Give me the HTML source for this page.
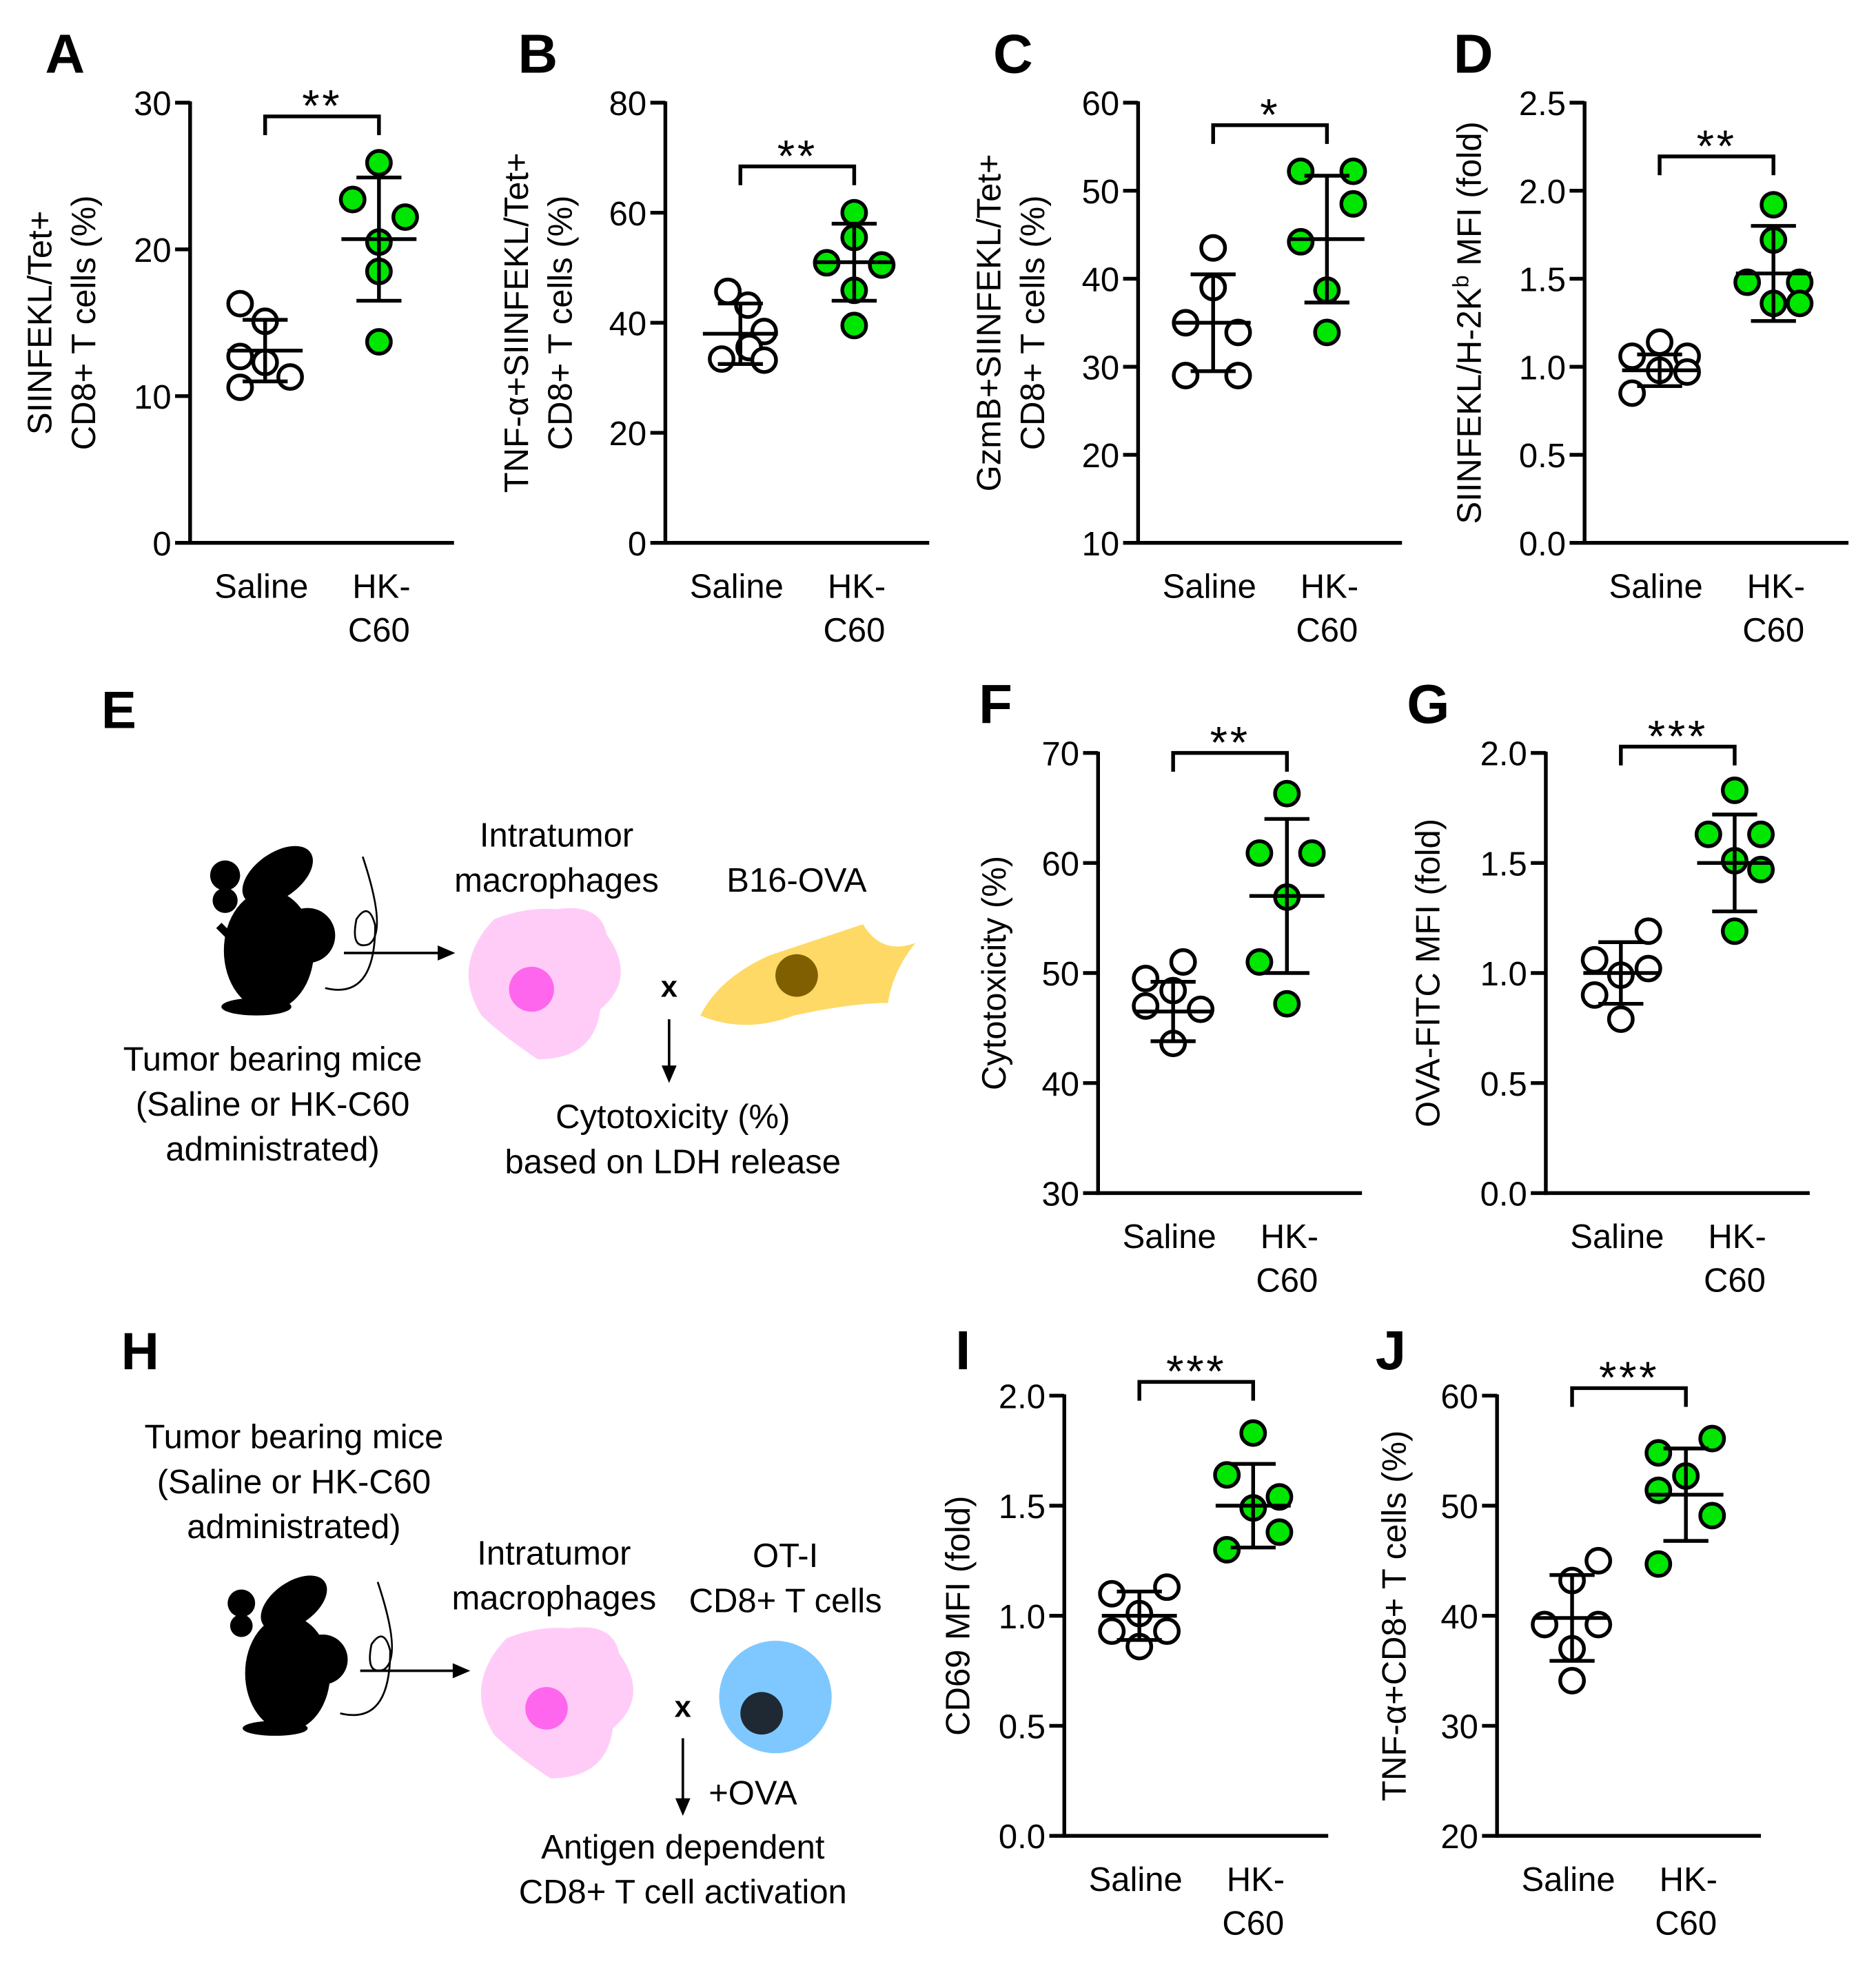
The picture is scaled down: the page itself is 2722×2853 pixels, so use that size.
<!DOCTYPE html>
<html><head><meta charset="utf-8"><style>
html,body{margin:0;padding:0;background:#fff;}
svg{display:block;font-family:"Liberation Sans",Arial,sans-serif;}
</style></head><body>
<svg id="fig" width="2722" height="2853" viewBox="0 0 1500 1572" xmlns="http://www.w3.org/2000/svg">
<g>
  <text x="95" y="582" font-size="42" font-weight="bold" text-anchor="middle">E</text>
  <g fill="#000">
    <ellipse cx="215" cy="760" rx="36" ry="48"/><circle cx="246" cy="748" r="22"/>
    <ellipse cx="222" cy="700" rx="32" ry="18" transform="rotate(-35 222 700)"/>
    <circle cx="180" cy="700" r="12"/><circle cx="180" cy="720" r="10"/>
    <ellipse cx="205" cy="805" rx="28" ry="7"/>
    <line x1="175" y1="740" x2="195" y2="760" stroke="#000" stroke-width="6"/>
  </g>
  <path d="M260 790 q40 10 40 -50 q-5 -20 -15 -5 q-5 25 10 20 q15 -10 -5 -70" fill="none" stroke="#000" stroke-width="1.5"/>
  <line x1="275" y1="762" x2="355" y2="762" stroke="#000" stroke-width="2"/><polygon points="364,762 350,756 350,768" fill="#000"/>
  <text x="218" y="856" font-size="27" text-anchor="middle">Tumor bearing mice</text>
  <text x="218" y="892" font-size="27" text-anchor="middle">(Saline or HK-C60</text>
  <text x="218" y="928" font-size="27" text-anchor="middle">administrated)</text>
  <text x="445" y="677" font-size="27" text-anchor="middle">Intratumor</text>
  <text x="445" y="713" font-size="27" text-anchor="middle">macrophages</text>
  <text x="637" y="713" font-size="27" text-anchor="middle">B16-OVA</text>
  <path d="M395 735 q25 -10 50 -8 q35 -5 40 20 q25 35 -5 60 q-5 40 -50 40 q-30 -20 -45 -35 q-25 -40 10 -77z" fill="#ffccf8"/>
  <circle cx="425" cy="791" r="18" fill="#ff66ee"/>
  <text x="535" y="797" font-size="24" font-weight="bold" text-anchor="middle">x</text>
  <path d="M560 812 q15 -30 55 -48 q45 -15 75 -25 q15 25 42 15 q-18 22 -22 48 q-30 0 -75 10 q-40 15 -75 0z" fill="#ffd966"/>
  <circle cx="637" cy="780" r="17" fill="#7f5f00"/>
  <line x1="535" y1="815" x2="535" y2="855" stroke="#000" stroke-width="2"/><polygon points="535,866 529,852 541,852" fill="#000"/>
  <text x="538" y="902" font-size="27" text-anchor="middle">Cytotoxicity (%)</text>
  <text x="538" y="938" font-size="27" text-anchor="middle">based on LDH release</text>
</g>
<g>
  <text x="112" y="1095" font-size="42" font-weight="bold" text-anchor="middle">H</text>
  <text x="235" y="1158" font-size="27" text-anchor="middle">Tumor bearing mice</text>
  <text x="235" y="1194" font-size="27" text-anchor="middle">(Saline or HK-C60</text>
  <text x="235" y="1230" font-size="27" text-anchor="middle">administrated)</text>
  <g fill="#000">
    <ellipse cx="230" cy="1338" rx="34" ry="46"/><circle cx="258" cy="1327" r="20"/>
    <ellipse cx="235" cy="1282" rx="30" ry="17" transform="rotate(-35 235 1282)"/>
    <circle cx="193" cy="1282" r="11"/><circle cx="193" cy="1300" r="9"/>
    <ellipse cx="220" cy="1382" rx="26" ry="6"/>
  </g>
  <path d="M272 1370 q40 10 40 -50 q-5 -20 -15 -5 q-5 25 10 20 q15 -10 -5 -70" fill="none" stroke="#000" stroke-width="1.5"/>
  <line x1="288" y1="1336" x2="366" y2="1336" stroke="#000" stroke-width="2"/><polygon points="376,1336 362,1330 362,1342" fill="#000"/>
  <text x="443" y="1251" font-size="27" text-anchor="middle">Intratumor</text>
  <text x="443" y="1287" font-size="27" text-anchor="middle">macrophages</text>
  <text x="628" y="1253" font-size="27" text-anchor="middle">OT-I</text>
  <text x="628" y="1289" font-size="27" text-anchor="middle">CD8+ T cells</text>
  <path d="M405 1310 q25 -10 50 -8 q35 -5 40 20 q25 35 -5 60 q-5 40 -50 40 q-30 -20 -45 -35 q-25 -40 10 -77z" fill="#ffccf8"/>
  <circle cx="437" cy="1366" r="17" fill="#ff66ee"/>
  <circle cx="620" cy="1357" r="45" fill="#7fc8ff"/>
  <circle cx="609" cy="1370" r="17" fill="#1f2933"/>
  <text x="546" y="1373" font-size="24" font-weight="bold" text-anchor="middle">x</text>
  <line x1="546" y1="1390" x2="546" y2="1440" stroke="#000" stroke-width="2"/><polygon points="546,1452 540,1438 552,1438" fill="#000"/>
  <text x="602" y="1443" font-size="27" text-anchor="middle">+OVA</text>
  <text x="546" y="1486" font-size="27" text-anchor="middle">Antigen dependent</text>
  <text x="546" y="1522" font-size="27" text-anchor="middle">CD8+ T cell activation</text>
</g>
<g id="charts"></g>
</svg>
<script>
// ---- data arrays ----
const categories = ["Saline", "HK-C60"];
const aSaline = [16.3, 15.1, 12.7, 12.3, 11.3, 10.6];
const aHK = [25.9, 23.4, 22.2, 20.5, 18.5, 13.7];
const aMean = [13.1, 20.7]; const aSD = [2.1, 4.2];
const bSaline = [45.7, 43.2, 38.4, 35.5, 33.4, 33.2];
const bHK = [60, 55.5, 50.9, 50.5, 45.9, 39.5];
const bMean = [38, 51]; const bSD = [5.5, 7];
const cSaline = [43.5, 39, 35, 33.9, 29, 29];
const cHK = [52.2, 52.2, 48.5, 44.2, 38.7, 33.9];
const cMean = [35, 44.5]; const cSD = [5.5, 7.2];
const dSaline = [1.14, 1.06, 1.06, 0.98, 0.85, 0.97];
const dHK = [1.92, 1.72, 1.48, 1.48, 1.36, 1.36];
const dMean = [0.98, 1.53]; const dSD = [0.09, 0.27];
const fSaline = [51, 49.5, 48.4, 47, 46.7, 43.6];
const fHK = [66.3, 60.9, 60.9, 56.9, 51, 47.2];
const fMean = [46.5, 57]; const fSD = [2.7, 7];
const gSaline = [1.19, 1.06, 0.99, 1.02, 0.9, 0.79];
const gHK = [1.83, 1.63, 1.63, 1.51, 1.47, 1.19];
const gMean = [1.0, 1.5]; const gSD = [0.14, 0.22];
const iSaline = [1.10, 1.13, 1.01, 0.93, 0.93, 0.86];
const iHK = [1.83, 1.64, 1.54, 1.49, 1.3, 1.38];
const iMean = [1.0, 1.5]; const iSD = [0.11, 0.19];
const jSaline = [45, 43.2, 39.2, 39.2, 37, 34.1];
const jHK = [54.8, 56.1, 52.7, 51.4, 49.1, 44.7];
const jMean = [39.8, 51]; const jSD = [3.9, 4.2];
const aTicks = [0,10,20,30], bTicks=[0,20,40,60,80], cTicks=[10,20,30,40,50,60];
const dTicks=[0,0.5,1,1.5,2,2.5], fTicks=[30,40,50,60,70], gTicks=[0,0.5,1,1.5,2];
const iTicks=[0,0.5,1,1.5,2], jTicks=[20,30,40,50,60];
const salineJit=[-20,0,-20,0,20,-20];
const ns="http://www.w3.org/2000/svg";
const root=document.getElementById('charts');
function mk(tag,attrs,parent,txt){const e=document.createElementNS(ns,tag);for(const k in attrs)e.setAttribute(k,attrs[k]);if(txt!==undefined)e.textContent=txt;parent.appendChild(e);return e;}
function panel(p){
  const g=mk('g',{},root);
  
  
  const y=v=>p.y0-(v-p.min)/(p.max-p.min)*(p.y0-p.y1);
  const x=i=>p.ax+60+i*91;
  const lab=mk('text',{x:p.lx,y:p.ly,'font-size':44,'font-weight':'bold','text-anchor':'middle'},g,p.id.toUpperCase());
  
  
  mk('line',{x1:p.ax,y1:p.y1-1,x2:p.ax,y2:p.y0+1.5,stroke:'#000','stroke-width':3},g);
  mk('line',{x1:p.ax,y1:p.y0,x2:p.ax+211,y2:p.y0,stroke:'#000','stroke-width':3},g);
  p.ticks.forEach(t=>{
    mk('line',{x1:p.ax-12,y1:y(t),x2:p.ax,y2:y(t),stroke:'#000','stroke-width':3},g);
    const tl=mk('text',{x:p.ax-15,y:y(t)+10,'font-size':27,'text-anchor':'end'},g,p.fmt?t.toFixed(1):String(t));
    
    
  });
  const xl=mk('text',{x:x(0)-3,y:p.y0+44,'font-size':27,'text-anchor':'middle'},g,categories[0]);
  
  
  const xh=mk('text',{x:x(1)+2,y:p.y0+44,'font-size':27,'text-anchor':'middle'},g,'HK-');
  
  
  mk('text',{x:x(1),y:p.y0+79,'font-size':27,'text-anchor':'middle'},g,'C60');
  p.title.forEach((t,k)=>{
    const cx=p.tx+k*35, cy=(p.y0+p.y1)/2;
    const tt=mk('text',{x:cx,y:cy,'font-size':27,'text-anchor':'middle',transform:`rotate(-90 ${cx} ${cy})`},g);
    tt.innerHTML=t;
    
    
  });
  const b=mk('path',{d:`M${x(0)} ${p.by+15} V${p.by} H${x(1)} V${p.by+15}`,fill:'none',stroke:'#000','stroke-width':3},g);
  
  
  const st=mk('text',{x:(x(0)+x(1))/2,y:p.by+4,'font-size':36,'text-anchor':'middle','letter-spacing':'2'},g,p.stars);
  
  
  [p.s,p.h].forEach((arr,ci)=>{
    arr.forEach((v,i)=>{
      const c=mk('circle',{cx:x(ci)+(p.jit[ci][i]),cy:y(v),r:9.5,fill:ci?'#00e600':'#fff',stroke:'#000','stroke-width':3},g);
      
      
    });
    const m=p.mean[ci], sd=p.sd[ci], cx=x(ci);
    const eb=mk('path',{d:`M${cx-30} ${y(m)} H${cx+30} M${cx} ${y(m+sd)} V${y(m-sd)} M${cx-18} ${y(m+sd)} H${cx+18} M${cx-18} ${y(m-sd)} H${cx+18}`,fill:'none',stroke:'#000','stroke-width':3},g);
    
    
  });
}
panel({id:'a',lx:52,ly:58,ax:152,y1:82,y0:434,min:0,max:30,ticks:aTicks,s:aSaline,h:aHK,mean:aMean,sd:aSD,jit:[salineJit,[0,-21,21,0,0,0]],title:['SIINFEKL/Tet+','CD8+ T cells (%)'],tx:41,by:93,stars:'**'});
panel({id:'b',lx:430,ly:58,ax:532,y1:82,y0:434,min:0,max:80,ticks:bTicks,s:bSaline,h:bHK,mean:bMean,sd:bSD,jit:[[-10,6,19,7,-15,19],[0,0,-22,22,0,0]],title:['TNF-α+SIINFEKL/Tet+','CD8+ T cells (%)'],tx:422,by:133,stars:'**'});
panel({id:'c',lx:810,ly:58,ax:910,y1:82,y0:434,min:10,max:60,ticks:cTicks,s:cSaline,h:cHK,mean:cMean,sd:cSD,jit:[[0,0,-22,20,-22,20],[-21,21,21,-21,0,0]],title:['GzmB+SIINFEKL/Tet+','CD8+ T cells (%)'],tx:800,by:100,stars:'*'});
panel({id:'d',lx:1178,ly:58,ax:1267,y1:82,y0:434,min:0,max:2.5,ticks:dTicks,fmt:1,s:dSaline,h:dHK,mean:dMean,sd:dSD,jit:[[0,-22,22,0,-22,22],[0,0,-21,21,0,21]],title:['SIINFEKL/H-2K<tspan baseline-shift="super" font-size="18">b</tspan> MFI (fold)'],tx:1184,by:125,stars:'**'});
panel({id:'f',lx:796,ly:578,ax:878,y1:602,y0:954,min:30,max:70,ticks:fTicks,s:fSaline,h:fHK,mean:fMean,sd:fSD,jit:[[8,-22,0,-22,22,0],[0,-22,20,0,-22,0]],title:['Cytotoxicity (%)'],tx:804,by:602,stars:'**'});
panel({id:'g',lx:1142,ly:578,ax:1236,y1:602,y0:954,min:0,max:2,ticks:gTicks,fmt:1,s:gSaline,h:gHK,mean:gMean,sd:gSD,jit:[[22,-21,0,22,-21,0],[0,-21,21,0,21,0]],title:['OVA-FITC MFI (fold)'],tx:1151,by:597,stars:'***'});
panel({id:'i',lx:770,ly:1095,ax:851,y1:1116,y0:1468,min:0,max:2,ticks:iTicks,fmt:1,s:iSaline,h:iHK,mean:iMean,sd:iSD,jit:[[-22,22,0,-22,22,0],[0,-21,21,0,-21,21]],title:['CD69 MFI (fold)'],tx:775,by:1105,stars:'***'});
panel({id:'j',lx:1112,ly:1095,ax:1197,y1:1116,y0:1468,min:20,max:60,ticks:jTicks,s:jSaline,h:jHK,mean:jMean,sd:jSD,jit:[[21,0,-22,21,0,0],[-22,21,0,-22,21,-22]],title:['TNF-α+CD8+ T cells (%)'],tx:1124,by:1110,stars:'***'});
</script>
</body></html>
